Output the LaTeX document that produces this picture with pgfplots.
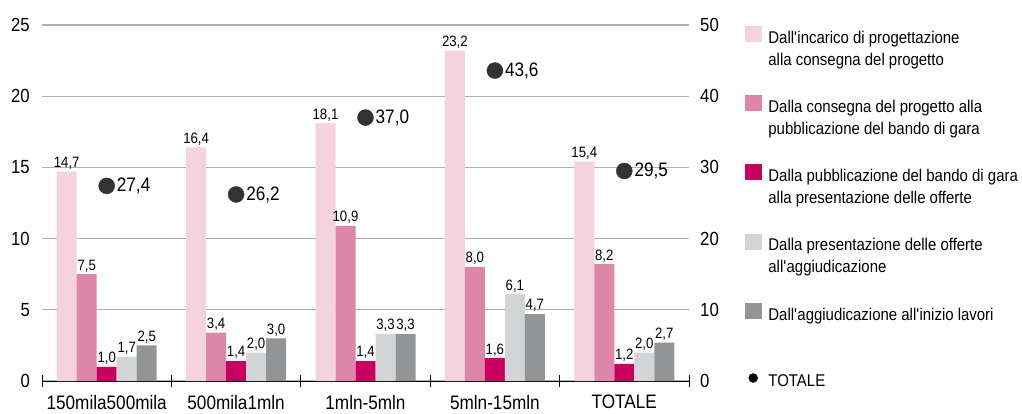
\documentclass[border=0pt]{standalone}
\usepackage{fontspec}
\setmainfont{Liberation Sans}[FakeStretch=0.88]
\usepackage{pgfplots}
\pgfplotsset{compat=1.18}
\definecolor{c1}{HTML}{F4D3DF}
\definecolor{c2}{HTML}{DE86A8}
\definecolor{c3}{HTML}{C8005F}
\definecolor{c4}{HTML}{D3D4D6}
\definecolor{c5}{HTML}{939496}
\definecolor{dotc}{HTML}{333333}
\definecolor{gridc}{HTML}{B0B0B0}
\newcommand{\ap}{\textquotesingle}
\pgfplotsset{sq/.style={legend image code/.code={\fill[#1] (0pt,-1pt) rectangle (16pt,14pt);}}}
\begin{document}
\begin{tikzpicture}
\begin{axis}[name=ax, at={(0,0)}, anchor=south west, scale only axis,
  width=647pt, height=356pt,
  xmin=-0.5, xmax=4.5, ymin=0, ymax=25,
  ybar, bar width=20pt, clip=false,
  axis x line*=bottom, axis y line*=left,
  y axis line style={draw=none},
  x axis line style={black, line width=0.9pt, -},
  xtick={0,...,4},
  xticklabels={150mila500mila, 500mila1mln, 1mln-5mln, 5mln-15mln, TOTALE},
  minor xtick={-0.5,0.5,1.5,2.5,3.5,4.5},
  major tick length=0pt, minor tick length=12pt, tick align=center,
  minor tick style={black, line width=0.9pt},
  ytick={0,5,...,25},
  ymajorgrids, grid style={gridc, line width=1.3pt},
  /pgf/number format/assume math mode=true,
  yticklabel style={inner sep=0pt, xshift=-12pt, font=\fontsize{19}{19}\selectfont},
  xticklabel style={inner sep=0pt, yshift=-14pt, font=\fontsize{19.5}{20}\selectfont},
  nodes near coords={\pgfmathprintnumber[fixed,fixed zerofill,precision=1,use comma]{\pgfplotspointmeta}},
  every node near coord/.append style={font=\fontsize{15}{15}\selectfont, inner sep=2pt, text=black},
  legend style={at={(axis description cs:1.0866,0.9972)}, anchor=north west, draw=none, fill=none,
    inner sep=0pt, outer sep=0pt, row sep=0pt, column sep=7pt,
    nodes={font=\fontsize{17}{22}\selectfont, text height=14pt, text depth=8pt, inner sep=0pt}},
  legend cell align=left,
]
\addplot[fill=c1, draw=none, bar shift=-40pt, forget plot] coordinates {(0,14.7) (1,16.4) (2,18.1) (3,23.2) (4,15.4)};
\addplot[fill=c2, draw=none, bar shift=-20pt, forget plot] coordinates {(0,7.5) (1,3.4) (2,10.9) (3,8.0) (4,8.2)};
\addplot[fill=c3, draw=none, bar shift=0pt, forget plot] coordinates {(0,1.0) (1,1.4) (2,1.4) (3,1.6) (4,1.2)};
\addplot[fill=c4, draw=none, bar shift=20pt, forget plot] coordinates {(0,1.7) (1,2.0) (2,3.3) (3,6.1) (4,2.0)};
\addplot[fill=c5, draw=none, bar shift=40pt, forget plot] coordinates {(0,2.5) (1,3.0) (2,3.3) (3,4.7) (4,2.7)};
\addlegendimage{sq=c1}
\addlegendentry{Dall\ap incarico di progettazione}
\addlegendimage{empty legend}
\addlegendentry{alla consegna del progetto}
\addlegendimage{empty legend}
\addlegendentry{\phantom{X}}
\addlegendimage{sq=c2}
\addlegendentry{Dalla consegna del progetto alla}
\addlegendimage{empty legend}
\addlegendentry{pubblicazione del bando di gara}
\addlegendimage{empty legend}
\addlegendentry{\phantom{X}}
\addlegendimage{sq=c3}
\addlegendentry{Dalla pubblicazione del bando di gara}
\addlegendimage{empty legend}
\addlegendentry{alla presentazione delle offerte}
\addlegendimage{empty legend}
\addlegendentry{\phantom{X}}
\addlegendimage{sq=c4}
\addlegendentry{Dalla presentazione delle offerte}
\addlegendimage{empty legend}
\addlegendentry{all\ap aggiudicazione}
\addlegendimage{empty legend}
\addlegendentry{\phantom{X}}
\addlegendimage{sq=c5}
\addlegendentry{Dall\ap aggiudicazione all\ap inizio lavori}
\addlegendimage{empty legend}
\addlegendentry{\phantom{X}}
\addlegendimage{empty legend}
\addlegendentry{\phantom{X}}
\addlegendimage{legend image code/.code={\fill[black] (8pt,5pt) circle (4.5pt);}}
\addlegendentry{TOTALE}
\end{axis}
\begin{axis}[at={(ax.south west)}, anchor=south west, scale only axis,
  width=647pt, height=356pt,
  xmin=-0.5, xmax=4.5, ymin=0, ymax=50, clip=false,
  hide x axis, axis y line*=right, y axis line style={draw=none},
  ytick={0,10,...,50}, major tick length=0pt,
  /pgf/number format/assume math mode=true,
  yticklabel style={inner sep=0pt, xshift=11pt, font=\fontsize{19}{19}\selectfont},
]
\addplot[only marks, mark=*, mark size=8pt, dotc,
  nodes near coords={\pgfmathprintnumber[fixed,fixed zerofill,precision=1,use comma]{\pgfplotspointmeta}},
  every node near coord/.append style={anchor=west, xshift=9pt, inner sep=1pt, text=black, font=\fontsize{19.5}{20}\selectfont}]
  coordinates {(0,27.4) (1,26.2) (2,37.0) (3,43.6) (4,29.5)};
\end{axis}
\pgfresetboundingbox
\path[use as bounding box] ([shift={(-42pt,-32pt)}]ax.south west) rectangle ([shift={(980pt,381pt)}]ax.south west);
\end{tikzpicture}
\end{document}
